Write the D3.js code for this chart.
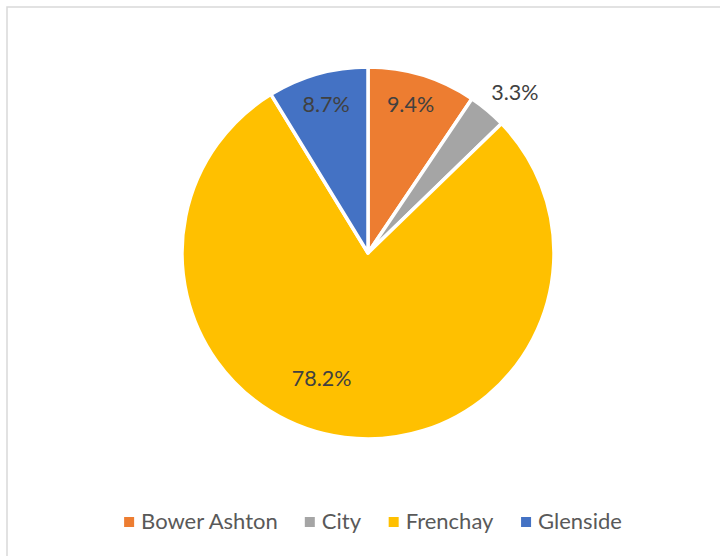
<!DOCTYPE html>
<html>
<head>
<meta charset="utf-8">
<script src="https://cdn.jsdelivr.net/npm/d3@7"></script>
<style>
  html, body { margin: 0; padding: 0; background: #fff; }
  svg { display: block; }
</style>
</head>
<body>
<svg id="chart" width="720" height="556"></svg>
<script>
// Share of students by campus (%)
const campuses = ["Bower Ashton", "City", "Frenchay", "Glenside"];
const shares = [9.4, 3.3, 78.2, 8.7];
const colors = ["#ED7D31", "#A5A5A5", "#FFC000", "#4472C4"];

// label placement per slice: radius as a fraction of the pie radius, angular nudge in degrees
const labelPlacement = [
  { r: 0.83, shift: -1 },
  { r: 1.17, shift: 2.5 },
  { r: 0.72, shift: 13 },
  { r: 0.83, shift: 0 }
];

const W = 720, H = 556;
const cx = 368, cy = 253, R = 186;

const svg = d3.select("#chart");

// chart frame
svg.append("rect")
  .attr("x", 7).attr("y", 7)
  .attr("width", W + 40).attr("height", H + 40)
  .attr("fill", "#fff")
  .attr("stroke", "#D9D9D9")
  .attr("stroke-width", 1.5);

const pie = d3.pie().value(d => d).sort(null);
const arcs = pie(shares);
const arc = d3.arc().innerRadius(0).outerRadius(R);

const g = svg.append("g").attr("transform", `translate(${cx},${cy})`);

g.selectAll("path.slice")
  .data(arcs)
  .join("path")
  .attr("class", "slice")
  .attr("d", arc)
  .attr("fill", (d, i) => colors[i])
  .attr("stroke", "#fff")
  .attr("stroke-width", 3.5)
  .attr("stroke-linejoin", "round");

const labelFont = "Lato, 'Open Sans', sans-serif";

g.selectAll("text.value")
  .data(arcs)
  .join("text")
  .attr("class", "value")
  .attr("transform", (d, i) => {
    const p = labelPlacement[i];
    const a = (d.startAngle + d.endAngle) / 2 + p.shift * Math.PI / 180;
    const rr = R * p.r;
    return `translate(${rr * Math.sin(a)},${-rr * Math.cos(a)})`;
  })
  .attr("text-anchor", "middle")
  .attr("dy", "0.36em")
  .attr("font-family", labelFont)
  .attr("font-size", 21.5)
  .attr("fill", "#404040")
  .text(d => d.data.toFixed(1) + "%");

// legend, centred below the pie
const legend = svg.append("g").attr("class", "legend");
const items = legend.selectAll("g.item")
  .data(campuses)
  .join("g")
  .attr("class", "item");

items.append("rect")
  .attr("width", 10).attr("height", 10)
  .attr("y", -4)
  .attr("fill", (d, i) => colors[i]);

items.append("text")
  .attr("x", 17)
  .attr("dy", "0.36em")
  .attr("font-family", labelFont)
  .attr("font-size", 22)
  .attr("fill", "#595959")
  .text(d => d);

const gap = 27;
let widths = [];
items.each(function () { widths.push(this.getBBox().width); });
const total = d3.sum(widths) + gap * (widths.length - 1);
let x = 373 - total / 2;
items.attr("transform", (d, i) => {
  const t = `translate(${x},521)`;
  x += widths[i] + gap;
  return t;
});
</script>
</body>
</html>
